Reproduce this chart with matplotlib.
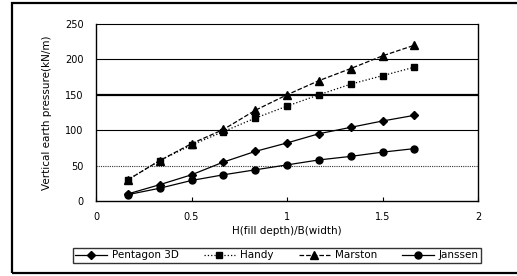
import matplotlib

matplotlib.use("Agg")
import matplotlib.pyplot as plt
from matplotlib.patches import Rectangle

# H/B ratios and vertical earth pressure (kN/m)
ratio = [0.167, 0.333, 0.5, 0.667, 0.833, 1.0, 1.167, 1.333, 1.5, 1.667]
pentagon = [10, 23, 37, 55, 70, 82, 95, 104, 113, 121]
handy = [30, 57, 79, 98, 117, 134, 150, 165, 177, 189]
marston = [30, 57, 81, 101, 128, 150, 170, 187, 205, 220]
janssen = [9, 18, 29, 37, 44, 51, 58, 63, 69, 74]

x_ticks = [0, 0.5, 1, 1.5, 2]
x_labels = ["0", "0.5", "1", "1.5", "2"]
y_ticks = [0, 50, 100, 150, 200, 250]

FS = 7.5

fig = plt.figure(figsize=(5.17, 2.76), dpi=100)
ax = fig.add_axes([96 / 517, 1 - 201 / 276, (478 - 96) / 517, (201 - 24) / 276])

# gridlines as in the original (dotted / solid / heavy)
ax.axhline(50, color="#333", lw=0.8, ls=(0, (1, 1)), zorder=1)
ax.axhline(100, color="black", lw=0.8, zorder=1)
ax.axhline(150, color="black", lw=1.6, zorder=1)
ax.axhline(200, color="black", lw=0.8, zorder=1)

ax.plot(ratio, pentagon, "-", marker="D", ms=4.5, color="black", lw=0.9, label="Pentagon 3D", zorder=3)
ax.plot(ratio, handy, ":", marker="s", ms=5, color="black", lw=0.9, label="Handy", zorder=3)
ax.plot(ratio, marston, "--", marker="^", ms=5.5, color="black", lw=0.9, label="Marston", zorder=3)
ax.plot(ratio, janssen, "-", marker="o", ms=5, color="black", lw=0.9, label="Janssen", zorder=3)

ax.set_xlim(0, 2)
ax.set_ylim(0, 250)
ax.set_xticks(x_ticks)
ax.set_xticklabels(x_labels, fontsize=7)
ax.set_yticks(y_ticks)
ax.tick_params(axis="x", direction="in", length=3, width=0.8, pad=8)
ax.tick_params(axis="y", length=0, pad=9, labelsize=7)
for side in ["left", "bottom", "right"]:
    ax.spines[side].set_linewidth(1.0)
ax.spines["top"].set_linestyle((0, (1, 1)))
ax.spines["top"].set_linewidth(0.8)

ax.set_xlabel("H(fill depth)/B(width)", fontsize=FS, labelpad=3)
ax.set_ylabel("Vertical earth pressure(kN/m)", fontsize=FS, labelpad=9)

leg = fig.legend(
    loc="center",
    bbox_to_anchor=(277 / 517, 1 - 255.5 / 276),
    ncol=4,
    fontsize=FS,
    frameon=True,
    fancybox=False,
    edgecolor="black",
    handlelength=3.0,
    columnspacing=2.4,
    borderpad=0.2,
    handletextpad=0.5,
    borderaxespad=0,
)
leg.get_frame().set_linewidth(1.0)

# outer chart frame (right edge runs off the canvas as in the original)
fig.patches.append(
    Rectangle((12 / 517, 3 / 276), 515 / 517, 270 / 276, transform=fig.transFigure,
              fill=False, edgecolor="black", lw=1.6)
)

fig.savefig("out.png", dpi=100)
